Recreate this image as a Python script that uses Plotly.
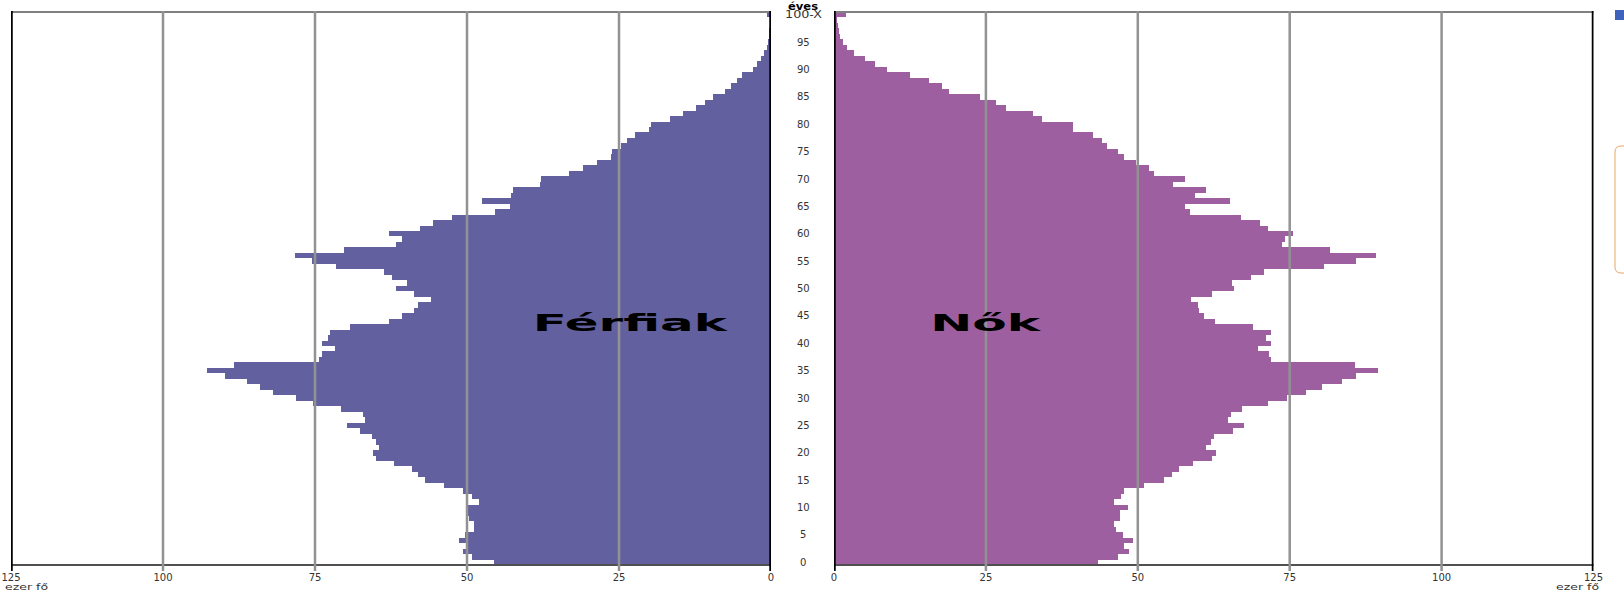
import plotly.graph_objects as go

W, H = 1624, 593
ages = list(range(100, -1, -1))
age_labels = ["100-X", "95", "90", "85", "80", "75", "70", "65", "60", "55", "50", "45", "40", "35", "30", "25", "20", "15", "10", "5", "0"]
age_ticks = [100, 95, 90, 85, 80, 75, 70, 65, 60, 55, 50, 45, 40, 35, 30, 25, 20, 15, 10, 5, 0]
x_ticks = [0, 25, 50, 75, 100, 125]

# age 100 down to age 0, thousand persons
men = [0.6, 0.1, 0.15, 0.25, 0.35, 0.45, 0.7, 1.1, 1.7, 2.35,
       3.0, 4.7, 5.6, 6.6, 7.5, 9.5, 10.8, 12.3, 14.5, 16.6,
       19.7, 20.0, 22.3, 23.7, 24.7, 26.1, 26.3, 28.7, 31.0, 33.2,
       37.8, 38.0, 42.4, 42.8, 47.6, 42.9, 45.4, 52.5, 55.6, 57.8,
       62.9, 60.7, 61.7, 70.3, 78.3, 75.5, 71.5, 63.6, 62.4, 59.9,
       61.7, 58.8, 55.9, 58.1, 58.7, 60.7, 62.9, 69.2, 72.6, 72.9,
       73.9, 71.7, 73.9, 74.3, 88.3, 92.8, 89.8, 86.2, 84.0, 81.9,
       78.2, 75.4, 70.8, 67.1, 66.7, 69.8, 67.6, 65.7, 65.0, 64.5,
       65.5, 65.0, 62.0, 59.0, 58.1, 56.9, 53.8, 50.7, 49.2, 48.1,
       49.9, 49.9, 49.6, 48.9, 48.9, 50.4, 51.3, 50.2, 50.7, 49.2,
       45.5]
women = [2.0, 0.5, 0.6, 0.85, 1.05, 1.5, 2.15, 3.3, 5.1, 6.75,
         8.7, 12.5, 15.7, 17.7, 19.0, 24.1, 26.6, 28.3, 32.7, 34.3,
         39.4, 39.3, 42.7, 44.1, 44.9, 46.7, 47.8, 49.7, 51.8, 52.7,
         57.8, 55.8, 61.2, 59.4, 65.1, 57.8, 58.6, 67.0, 70.1, 71.5,
         75.5, 74.2, 73.7, 81.7, 89.2, 85.9, 80.6, 70.8, 68.6, 65.5,
         65.9, 62.2, 58.7, 59.9, 60.0, 60.9, 62.7, 68.9, 71.9, 71.1,
         71.9, 69.8, 71.6, 72.0, 85.7, 89.5, 85.9, 83.6, 80.3, 77.7,
         74.6, 71.5, 67.1, 65.3, 64.8, 67.5, 65.7, 62.5, 62.1, 61.3,
         62.9, 62.2, 59.1, 56.7, 55.6, 54.3, 51.0, 47.8, 47.2, 46.1,
         48.4, 47.1, 47.1, 46.0, 46.4, 47.6, 49.2, 47.8, 48.5, 46.7,
         43.4]

MEN_COLOR = "#62609f"
WOMEN_COLOR = "#9e5fa0"
GRID = "#929292"
FONT = "DejaVu Sans"
TXT = "#333333"


def px(x):
    return x / W


def py(y):
    return 1 - y / H


TOP, BOTTOM, TICK_END = 12, 565, 571

fig = go.Figure()
fig.add_bar(y=ages, x=men, orientation="h", marker=dict(color=MEN_COLOR, line_width=0),
            xaxis="x", yaxis="y", width=1, showlegend=False)
fig.add_bar(y=ages, x=women, orientation="h", marker=dict(color=WOMEN_COLOR, line_width=0),
            xaxis="x2", yaxis="y", width=1, showlegend=False)

shapes = []
for xref, ends in (("x", (0, 125)), ("x2", (0, 125))):
    shapes.append(dict(type="line", xref=xref + " domain", x0=0, x1=1, yref="paper",
                       y0=py(TOP), y1=py(TOP), line=dict(color="#808080", width=2)))
    shapes.append(dict(type="line", xref=xref + " domain", x0=0, x1=1, yref="paper",
                       y0=py(BOTTOM), y1=py(BOTTOM), line=dict(color="#505050", width=2)))
    for t in x_ticks:
        edge = t in ends
        shapes.append(dict(type="line", xref=xref, x0=t, x1=t, yref="paper",
                           y0=py(TICK_END), y1=py(TOP - 1),
                           line=dict(color="#000000" if edge else GRID, width=3.5 if edge else 2.5)))

# page furniture cut off at the right edge of the screenshot
shapes.append(dict(type="rect", xref="paper", yref="paper", x0=px(1615), x1=px(1624), y0=py(10), y1=py(20),
                   fillcolor="#3f62bd", line_width=0))
shapes.append(dict(type="path", xref="paper", yref="paper",
                   path=f"M {px(1630)} {py(146)} L {px(1621)} {py(146)} Q {px(1615)} {py(146)} {px(1615)} {py(152)} "
                        f"L {px(1615)} {py(267)} Q {px(1615)} {py(273)} {px(1621)} {py(273)} L {px(1630)} {py(273)}",
                   line=dict(color="#eba762", width=1)))

ann = []
for t, lab in zip(age_ticks, age_labels):
    ann.append(dict(x=px(803), xref="paper", y=t, yref="y", text=lab, showarrow=False,
                    xanchor="center", yanchor="middle", font=dict(family=FONT, size=10, color=TXT)))
ann.append(dict(x=px(803), xref="paper", y=py(6.5), yref="paper", text="éves", showarrow=False,
                xanchor="center", yanchor="middle", font=dict(family=FONT, size=10, color="#000000", weight=700)))
ann.append(dict(x=px(27), xref="paper", y=py(586.5), yref="paper", text="ezer fő", showarrow=False,
                xanchor="center", yanchor="middle", font=dict(family=FONT, size=9, color=TXT)))
ann.append(dict(x=px(1577.5), xref="paper", y=py(586.5), yref="paper", text="ezer fő", showarrow=False,
                xanchor="center", yanchor="middle", font=dict(family=FONT, size=9, color=TXT)))
ann.append(dict(x=px(630), xref="paper", y=py(323), yref="paper", text="Férfiak", showarrow=False,
                xanchor="center", yanchor="middle", font=dict(family=FONT, size=23, color="#000000", weight=700)))
ann.append(dict(x=px(985.5), xref="paper", y=py(323), yref="paper", text="Nők", showarrow=False,
                xanchor="center", yanchor="middle", font=dict(family=FONT, size=23, color="#000000", weight=700)))

axis_common = dict(tickvals=x_ticks, showgrid=False, zeroline=False, showline=False, ticks="",
                   tickfont=dict(family=FONT, size=10, color=TXT), anchor="y", ticklabelstandoff=5)
fig.update_layout(
    width=W, height=H, margin=dict(l=0, r=0, t=0, b=0, autoexpand=False), paper_bgcolor="white", plot_bgcolor="white",
    barmode="overlay", bargap=0, showlegend=False, shapes=shapes, annotations=ann,
    xaxis=dict(domain=[px(11), px(771)], range=[125, 0], **axis_common),
    xaxis2=dict(domain=[px(834), px(1593.5)], range=[0, 125], **axis_common),
    yaxis=dict(domain=[py(BOTTOM), py(TOP)], range=[-0.5, 100.5], showticklabels=False, showgrid=False,
               zeroline=False, ticks="", showline=False),
)

post = """
document.body.style.margin = '0';
document.body.style.overflow = 'hidden';
var widths = {'Férfiak': 194, 'Nők': 110, 'ezer fő': 43, '100-X': 37, 'éves': 30};
document.querySelectorAll('.annotation-text').forEach(function (el) {
  var w = widths[el.textContent];
  if (w) {
    el.setAttribute('textLength', w);
    el.setAttribute('lengthAdjust', 'spacingAndGlyphs');
  }
});
"""
fig.write_html("out.html", post_script=post, config={"displayModeBar": False})
